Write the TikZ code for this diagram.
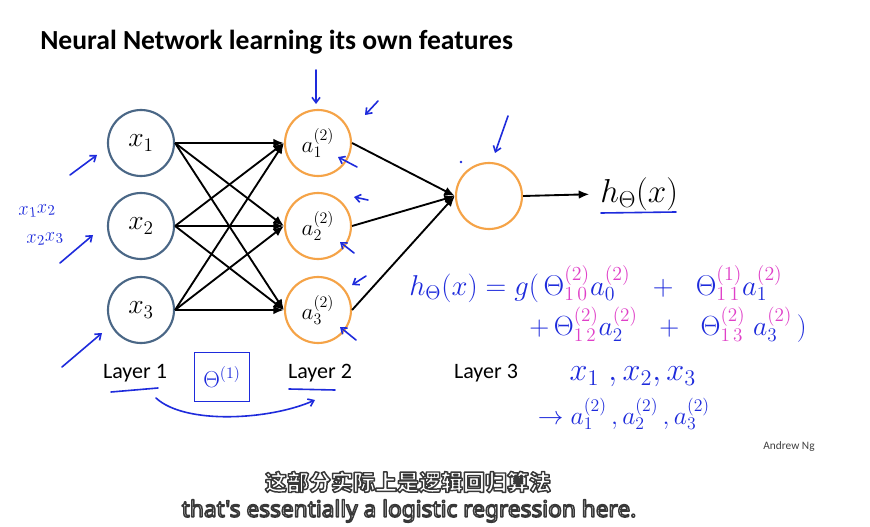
\documentclass[tikz,border=0pt]{standalone}
\usepackage{fontspec}
\usepackage{graphicx}
\usetikzlibrary{arrows.meta}
\newfontfamily\calibri{Carlito}
\newfontfamily\cjkfont{Noto Sans CJK SC}
\newfontfamily\subfont{Noto Sans}
\definecolor{inblue}{HTML}{4A6786}
\definecolor{orng}{HTML}{F5A347}
\definecolor{pen}{HTML}{1E2BDC}
\definecolor{penpink}{HTML}{E040C8}
\newcommand{\pk}[1]{{\color{penpink}#1}}
\newcommand{\outlined}[1]{{\color{white}\special{pdf:literal direct 0.22 G 1.1 w 1 j 2 Tr}#1\special{pdf:literal direct 0 Tr 0 G}}}
\begin{document}
\begin{tikzpicture}[x=0.75pt,y=-0.75pt,
 neuron/.style={circle,draw,line width=1.6pt,minimum size=49.5pt,inner sep=0pt},
 inp/.style={neuron,draw=inblue,font=\fontsize{20}{24}\selectfont},
 hid/.style={neuron,draw=orng,font=\fontsize{17}{20}\selectfont},
 conn/.style={line width=1.4pt,-{Latex[length=8pt,width=6.5pt]}},
 hand/.style={pen,line width=1.2pt,line cap=round,line join=round},
 harrow/.style={hand,-{Straight Barb[length=4pt,width=6pt]}},
 lab/.style={font=\calibri\fontsize{16.5}{19}\selectfont},
 handtext/.style={text=pen,inner sep=1pt,font=\fontsize{17}{20}\selectfont},
]
\fill[white] (0,0) rectangle (870,527);
\useasboundingbox (0,0) rectangle (870,527);

\node[anchor=west,inner sep=0pt,font=\calibri\bfseries\fontsize{20.7}{24}\selectfont] (title) at (40,42) {Neural Network learning its own features};

% neurons
\node[inp] (x1) at (141,143) {$x_1$};
\node[inp] (x2) at (141,226) {$x_2$};
\node[inp] (x3) at (141,310) {$x_3$};
\node[hid] (a1) at (318,143) {$a^{(2)}_1$};
\node[hid] (a2) at (318,226) {$a^{(2)}_2$};
\node[hid] (a3) at (318,310) {$a^{(2)}_3$};
\node[hid] (out) at (489,196) {};
\node[anchor=west,inner sep=0pt,font=\fontsize{23}{28}\selectfont] (h) at (600,194) {$h_\Theta(x)$};

\foreach \i in {1,2,3}{\foreach \j in {1,2,3}{\draw[conn] (x\i.east) -- (a\j.west);}}
\foreach \j in {1,2,3}{\draw[conn] (a\j.east) -- (out.west);}
\draw[conn,shorten >=8pt] (out.east) -- (h.west);

% layer labels
\node[lab] (l1) at (135,373) {Layer 1};
\node[lab] (l2) at (320,373) {Layer 2};
\node[lab] (l3) at (486,373) {Layer 3};
\node[font=\calibri\fontsize{8.5}{10}\selectfont,text=black!75] (ng) at (789,447) {Andrew Ng};

% handwritten annotations
\draw[hand] (601,213) -- (676,212);
\node[handtext] (eq1) at (596,284) {\resizebox{280pt}{!}{$h_{\Theta}(x) = g(\,\Theta^{\pk{(2)}}_{\pk{1\,0}}a^{\pk{(2)}}_0 \;\;+\;\; \Theta^{\pk{(1)}}_{\pk{1\,1}}a^{\pk{(2)}}_1$}};
\node[handtext] (eq2) at (668,325) {\resizebox{208pt}{!}{$+\,\Theta^{\pk{(2)}}_{\pk{1\,2}}a^{\pk{(2)}}_2 \;\;+\;\; \Theta^{\pk{(2)}}_{\pk{1\,3}}\;a^{\pk{(2)}}_3\,)$}};
\node[handtext] (xs) at (633,377) {\resizebox{95pt}{!}{$x_1\;,x_2,x_3$}};
\node[handtext] (as) at (624,414) {\resizebox{129pt}{!}{$\rightarrow a^{(2)}_1\,,a^{(2)}_2\,,a^{(2)}_3$}};
\node[handtext,font=\fontsize{15.5}{17}\selectfont,rotate=5] (x12) at (37,211) {$x_1x_2$};
\node[handtext,font=\fontsize{15.5}{17}\selectfont,rotate=5] (x23) at (45,239) {$x_2x_3$};
\node[draw=pen,line width=1.2pt,text=pen,minimum width=41pt,minimum height=37pt,font=\fontsize{17}{20}\selectfont] (th) at (222,377) {$\Theta^{(1)}$};

\draw[harrow] (70,175) -- (97,155);
\draw[harrow] (60,263) -- (93,235);
\draw[harrow] (62,367) -- (102,333);
\draw[harrow] (316,70) -- (316,104);
\draw[harrow] (378,101) -- (365,115);
\draw[harrow] (357,167) -- (338,157);
\draw[harrow] (368,200) -- (354,197);
\draw[harrow] (354,253) -- (340,242);
\draw[harrow] (366,276) -- (352,285);
\draw[harrow] (356,340) -- (340,327);
\draw[harrow] (508,116) -- (495,153);
\fill[pen] (461,162) circle (1pt);
\draw[hand] (111,392) -- (158,388);
\draw[hand] (289,389) -- (335,390);
\draw[harrow] (156,398) .. controls (185,425) and (270,420) .. (315,400);

% subtitles
\node[font=\cjkfont\bfseries\fontsize{16.5}{20}\selectfont] (zh) at (408,482) {\outlined{这部分实际上是逻辑回归算法}};
\node[font=\subfont\bfseries\fontsize{17}{20}\selectfont] (en) at (409,511) {\outlined{that's essentially a logistic regression here.}};
\end{tikzpicture}
\end{document}
